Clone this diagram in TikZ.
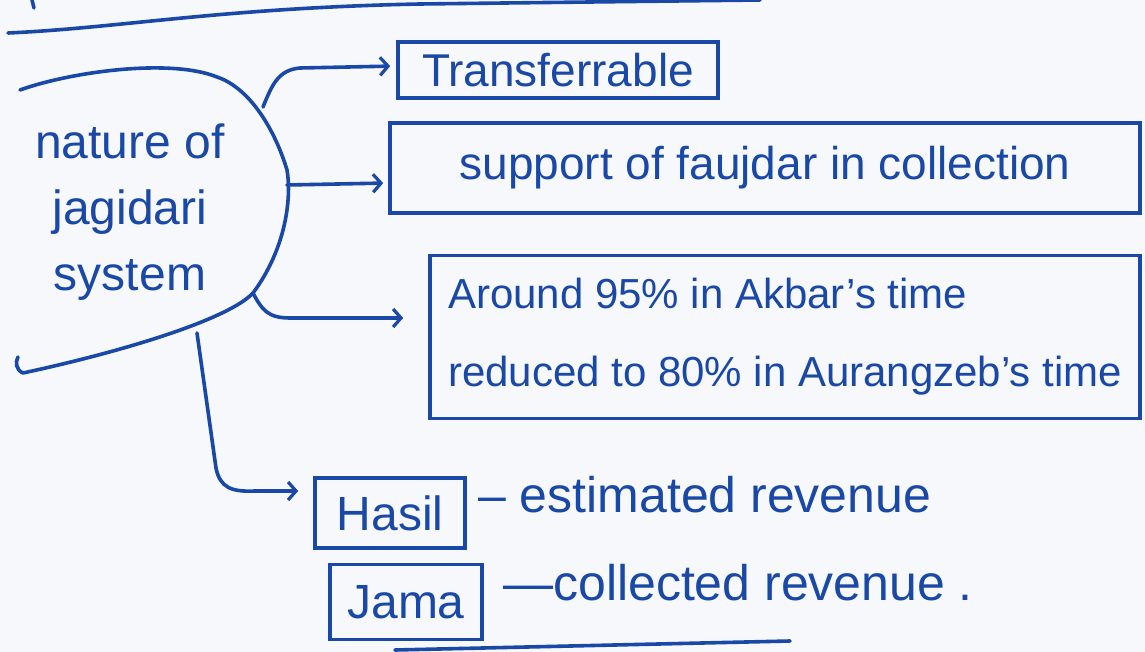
\documentclass[tikz,border=0pt]{standalone}
\usepackage{fontspec}
\setmainfont{Liberation Sans}
\usetikzlibrary{arrows.meta}
\definecolor{ink}{HTML}{1A48A6}
\definecolor{paper}{HTML}{F6F8FB}
\begin{document}
\begin{tikzpicture}[x=1pt,y=-1pt,
  inkline/.style={draw=ink,line width=3.6pt,line cap=round,line join=round},
  conn/.style={inkline,-{Straight Barb[length=8pt,width=18pt,line width=3.2pt]}},
  hw/.style={text=ink,font=\fontsize{44}{66}\selectfont,inner sep=0pt},
  tbox/.style={hw,draw=ink,line width=3.6pt,rectangle}]
\fill[paper] (0,0) rectangle (1145,652);
\useasboundingbox (0,0) rectangle (1145,652);
% page rule at top
\draw[inkline] (8,33) .. controls (120,28) and (220,8) .. (420,4) -- (760,0);
\draw[inkline] (32,0) -- (34,8);
% central topic
\node[hw,align=center,font=\fontsize{48}{66}\selectfont] (topic) at (130,212) {nature of\\jagidari\\system};
\draw[inkline] (20,90) .. controls (70,72) and (170,58) .. (217,77)
  .. controls (250,88) and (275,130) .. (287,170)
  .. controls (292,200) and (285,250) .. (253,293)
  .. controls (230,318) and (130,350) .. (23,373)
  .. controls (16,370) and (15,362) .. (18,357);
\coordinate (o1) at (263,107);
\coordinate (o2) at (287,185);
\coordinate (o3) at (253,293);
\coordinate (o4) at (197,333);
% boxes
\node[tbox,minimum width=320pt,minimum height=56pt,font=\fontsize{46}{50}\selectfont] (transfer) at (558,70) {Transferrable};
\node[tbox,minimum width=750pt,minimum height=90pt,font=\fontsize{46}{50}\selectfont] (faujdar) at (765,168) {support of faujdar in collection};
\node[tbox,minimum width=710pt,minimum height=163pt,align=left,font=\fontsize{42}{78}\selectfont] (share) at (785,337)
  {Around 95\% in Akbar's time\\reduced to 80\% in Aurangzeb's time};
\node[tbox,minimum width=150pt,minimum height=70pt,font=\fontsize{48}{50}\selectfont] (hasil) at (390,513) {Hasil};
\node[hw,anchor=west,font=\fontsize{50}{54}\selectfont] (hasiltxt) at (478,495) {-- estimated revenue};
\node[tbox,minimum width=152pt,minimum height=75pt,font=\fontsize{48}{50}\selectfont] (jama) at (406,602) {Jama};
\node[hw,anchor=west,font=\fontsize{50}{54}\selectfont] (jamatxt) at (503,583) {---collected revenue .};
% connectors
\draw[conn,shorten >=6pt] (o1) .. controls (272,85) and (278,70) .. (300,68) -- (transfer.west |- 0,66);
\draw[conn,shorten >=5pt] (o2) -- (faujdar.west |- 0,183);
\draw[conn,shorten >=25pt] (o3) .. controls (262,310) and (268,318) .. (290,318) -- (share.west |- 0,318);
\draw[conn,shorten >=15pt] (o4) -- (216,468) .. controls (220,488) and (232,492) .. (255,491) -- (hasil.west |- 0,491);
% underline at bottom
\draw[inkline] (395,650) -- (790,641);
\end{tikzpicture}
\end{document}
